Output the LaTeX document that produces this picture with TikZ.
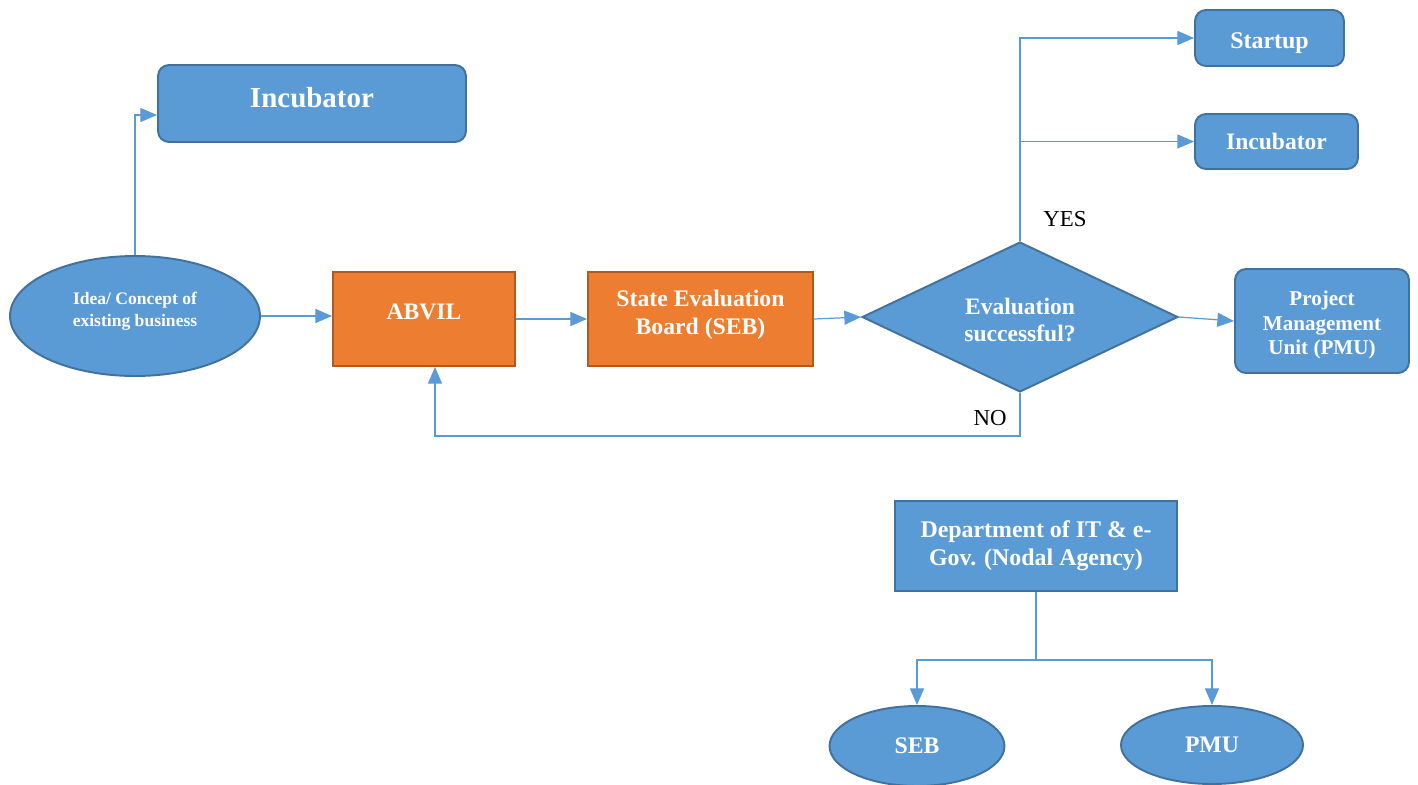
\documentclass[tikz,border=0pt]{standalone}
\usepackage{fontspec}
\setmainfont{Liberation Serif}
\usetikzlibrary{shapes.geometric,arrows.meta}
\definecolor{boxblue}{HTML}{5B9BD5}
\definecolor{edgeblue}{HTML}{41719C}
\definecolor{boxorange}{HTML}{ED7D31}
\definecolor{edgeorange}{HTML}{AE5A21}

\begin{document}
\begin{tikzpicture}[x=0.02cm,y=-0.02cm,
  fs/.style 2 args={font=\fontsize{#1}{#2}\selectfont\bfseries},
  bluebox/.style={draw=edgeblue,fill=boxblue,line width=1.1pt,text=white,align=center,inner sep=0pt},
  roundbox/.style={bluebox,rounded corners=0.22cm},
  orangebox/.style={draw=edgeorange,fill=boxorange,line width=1.1pt,text=white,align=center,inner sep=0pt},
  arr/.style={draw=boxblue,line width=0.7pt,-{Triangle[length=9.5pt,width=8pt]}}]
  \useasboundingbox (0,0) rectangle (1418,785);

  \node [roundbox,fs={16.5}{19},text depth=6.8pt,minimum width=6.16cm,minimum height=1.54cm] (inc1) at (312,103.5) {Incubator};
  \node [roundbox,fs={13.6}{16},text height=15pt,minimum width=2.98cm,minimum height=1.12cm] (start) at (1269.5,38) {Startup};
  \node [roundbox,fs={13.4}{16},minimum width=3.26cm,minimum height=1.1cm] (inc2) at (1276.5,141.5) {Incubator};
  \node [bluebox,ellipse,fs={10}{12.5},text height=13.8pt,minimum width=5cm,minimum height=2.4cm] (idea) at (135,316) {Idea/ Concept of\\existing business};
  \node [orangebox,fs={13.4}{16},text depth=8pt,minimum width=3.64cm,minimum height=1.88cm] (abvil) at (424,319) {ABVIL};
  \node [orangebox,fs={13.5}{15.9},text height=20.5pt,minimum width=4.5cm,minimum height=1.88cm] (seb) at (700.5,319) {State Evaluation\\Board (SEB)};
  \node [bluebox,diamond,aspect=2.1,fs={13.4}{15.4},text height=27.9pt,minimum width=6.32cm,minimum height=3cm] (eval) at (1020,317) {Evaluation\\successful?};
  \node [roundbox,fs={12}{13.9},text height=40.6pt,minimum width=3.48cm,minimum height=2.08cm] (pmu) at (1322,321) {Project\\Management\\Unit (PMU)};
  \node [bluebox,fs={13.6}{15.9},minimum width=5.64cm,minimum height=1.8cm] (dept) at (1036,546) {Department of IT \& e-\\Gov. (Nodal Agency)};
  \node [bluebox,ellipse,fs={13.5}{16},minimum width=3.5cm,minimum height=1.6cm] (seb2) at (917,746) {SEB};
  \node [bluebox,ellipse,fs={13.5}{16},minimum width=3.64cm,minimum height=1.56cm] (pmu2) at (1212,745) {PMU};

  \draw [arr] (idea.north) |- ([yshift=-0.23cm]inc1.west);
  \draw [arr] (idea.east) -- (idea.east -| abvil.west);
  \draw [arr] (abvil.east) -- (seb.west);
  \draw [arr] (seb.east) -- (eval.west);
  \draw [arr] (eval.east) -- (pmu.west);
  \draw [arr] (eval.north) |- (start.west);
  \draw [arr] (eval.north |- inc2.west) -- (inc2.west);
  \draw [arr] (eval.south) -- ++(0,43) -| ([xshift=0.22cm]abvil.south);
  \draw [arr] (dept.south) -- ++(0,68) -| (seb2.north);
  \draw [arr] (dept.south) -- ++(0,68) -| (pmu2.north);

  \node [font=\fontsize{13}{15}\selectfont] (yes) at (1065,219) {YES};
  \node [font=\fontsize{13}{15}\selectfont] (no) at (990,418) {NO};
\end{tikzpicture}
\end{document}
